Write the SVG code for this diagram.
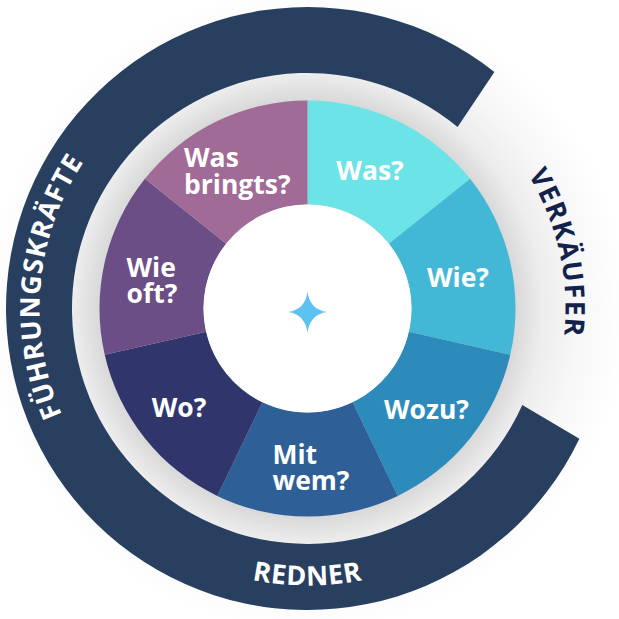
<svg xmlns="http://www.w3.org/2000/svg" width="619" height="619" viewBox="0 0 619 619">
  <defs>
    <radialGradient id="halo" cx="307.5" cy="308.5" r="320" gradientUnits="userSpaceOnUse">
      <stop offset="0.64" stop-color="#d6d6d6"/>
      <stop offset="0.735" stop-color="#ededed"/>
      <stop offset="0.85" stop-color="#f7f7f7"/>
      <stop offset="1" stop-color="#ffffff"/>
    </radialGradient>
    <path id="arcLeft" d="M 195.1,549.6 A 265 265 0 0 1 238.7,51.6"/>
    <path id="arcBottom" d="M 67.6,447 A 277 277 0 0 0 547.4,447"/>
    <path id="arcRight" d="M 341.2,52.7 A 258 258 0 0 1 446.1,526.1"/>
  </defs>
  <style>
    .lbl { font-family: "Open Sans", "Noto Sans", "DejaVu Sans", sans-serif; font-weight: 700; font-size: 26.5px; fill: #ffffff; }
    .ring { font-family: "Open Sans", "Noto Sans", "DejaVu Sans", sans-serif; font-weight: 700; font-size: 27px; }
    .seg { stroke: none; }
  </style>
  <rect width="619" height="619" fill="#ffffff"/>
  <circle cx="307.5" cy="308.5" r="320" fill="url(#halo)"/>

  <g id="outer-ring">
    <path d="M 494.4,71.9 A 301.5 301.5 0 1 0 579.4,438.8 L 522.3,405 A 235.5 235.5 0 1 1 457.6,127 Z" fill="#283f60"/>
  </g>

  <g id="label-fuehrungskraefte">
    <text class="ring" fill="#ffffff" letter-spacing="1.1"><textPath href="#arcLeft" startOffset="50%" text-anchor="middle">FÜHRUNGSKRÄFTE</textPath></text>
  </g>
  <g id="label-redner">
    <text class="ring" fill="#ffffff" font-size="28" letter-spacing="0.6"><textPath href="#arcBottom" startOffset="50%" text-anchor="middle">REDNER</textPath></text>
  </g>
  <g id="label-verkaeufer">
    <text class="ring" fill="#12224a" letter-spacing="1.5"><textPath href="#arcRight" startOffset="50%" text-anchor="middle">VERKÄUFER</textPath></text>
  </g>

  <g id="seg-was">
    <path class="seg" fill="#6ce3e7" d="M 307.5,100.5 A 208 208 0 0 1 470.12,178.81 L 388.81,243.66 A 104 104 0 0 0 307.5,204.5 Z"/>
    <text class="lbl" x="370" y="180" text-anchor="middle">Was?</text>
  </g>
  <g id="seg-wie">
    <path class="seg" fill="#43b8d6" d="M 470.12,178.81 A 208 208 0 0 1 510.29,354.78 L 408.89,331.64 A 104 104 0 0 0 388.81,243.66 Z"/>
    <text class="lbl" x="458" y="286.5" text-anchor="middle">Wie?</text>
  </g>
  <g id="seg-wozu">
    <path class="seg" fill="#2d8bbb" d="M 510.29,354.78 A 208 208 0 0 1 397.75,495.9 L 352.62,402.2 A 104 104 0 0 0 408.89,331.64 Z"/>
    <text class="lbl" x="426.5" y="419" text-anchor="middle">Wozu?</text>
  </g>
  <g id="seg-mitwem">
    <path class="seg" fill="#2e5f97" d="M 397.75,495.9 A 208 208 0 0 1 217.25,495.9 L 262.38,402.2 A 104 104 0 0 0 352.62,402.2 Z"/>
    <text class="lbl" x="272.5" y="463.5">Mit</text>
    <text class="lbl" x="272.5" y="490">wem?</text>
  </g>
  <g id="seg-wo">
    <path class="seg" fill="#30356c" d="M 217.25,495.9 A 208 208 0 0 1 104.71,354.78 L 206.11,331.64 A 104 104 0 0 0 262.38,402.2 Z"/>
    <text class="lbl" x="179" y="417" text-anchor="middle">Wo?</text>
  </g>
  <g id="seg-wieoft">
    <path class="seg" fill="#6c4e87" d="M 104.71,354.78 A 208 208 0 0 1 144.88,178.81 L 226.19,243.66 A 104 104 0 0 0 206.11,331.64 Z"/>
    <text class="lbl" x="126.5" y="276.5">Wie</text>
    <text class="lbl" x="126.5" y="303">oft?</text>
  </g>
  <g id="seg-wasbringts">
    <path class="seg" fill="#a06b96" d="M 144.88,178.81 A 208 208 0 0 1 307.5,100.5 L 307.5,204.5 A 104 104 0 0 0 226.19,243.66 Z"/>
    <text class="lbl" x="184" y="166.5">Was</text>
    <text class="lbl" x="184" y="193.5">bringts?</text>
  </g>

  <g id="center">
    <circle cx="307.5" cy="308.5" r="104" fill="#ffffff"/>
    <path d="M 307.5,291.5 Q 309.8,309.7 327,312 Q 309.8,314.3 307.5,333 Q 305.2,314.3 288,312 Q 305.2,309.7 307.5,291.5 Z" fill="#5cc2f2"/>
  </g>
</svg>
